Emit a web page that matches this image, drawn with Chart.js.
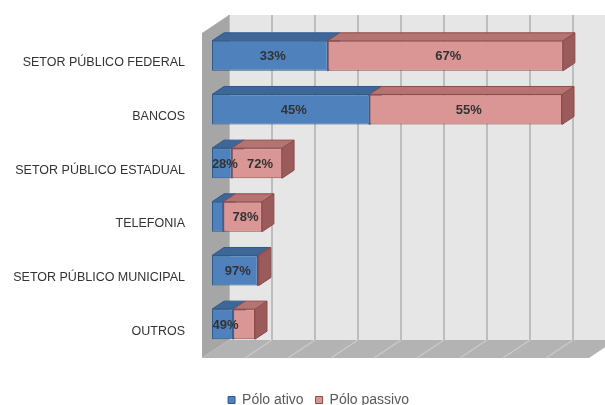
<!DOCTYPE html>
<html><head><meta charset="utf-8">
<script src="https://cdn.jsdelivr.net/npm/chart.js@4/dist/chart.umd.min.js"></script>
<style>html,body{margin:0;padding:0;background:#fff;}#wrap{width:605px;height:405px;}</style>
</head><body><div id="wrap"><canvas id="c" width="605" height="405"></canvas></div>
<script>
const categories = ['SETOR PÚBLICO FEDERAL','BANCOS','SETOR PÚBLICO ESTADUAL','TELEFONIA','SETOR PÚBLICO MUNICIPAL','OUTROS'];
const seriesNames = ['Pólo ativo','Pólo passivo'];
const poloAtivo = [269, 366, 46, 26, 106, 49];
const poloPassivo = [547, 448, 117, 90, 3, 51];
const ativoLabels = ['33%','45%','28%','','97%','49%'];
const passivoLabels = ['67%','55%','72%','78%','',''];
const axisMax = 900;
const gridStep = 100;

const frontColors = ['#4F81BD','#D99694'];
const borderColors = ['#2F5A8C','#8E4C4B'];
const topColors = ['#3D6699','#B57371'];
const sideColors = ['#33598A','#9B5B5A'];
const labelSets = [ativoLabels, passivoLabels];

const BACK = {dx:17, dy:-11};
const FLOOR = {dx:-10, dy:7};
const BAR = {dx:12, dy:-8};
const LEG_SHIFT = {x:19, y:12};

function poly(ctx, pts, fill, stroke){
  ctx.beginPath(); ctx.moveTo(pts[0][0], pts[0][1]);
  for (let i=1;i<pts.length;i++) ctx.lineTo(pts[i][0], pts[i][1]);
  ctx.closePath();
  if (fill){ctx.fillStyle=fill; ctx.fill();}
  if (stroke){ctx.strokeStyle=stroke; ctx.lineWidth=1; ctx.stroke();}
}

const threeD = {
  id:'threeD',
  beforeDatasetsDraw(chart){
    const {ctx, chartArea:ca, scales:{x}} = chart;
    const x0 = x.getPixelForValue(0), xM = x.getPixelForValue(axisMax);
    const backBottom = ca.bottom + BACK.dy, frontBottom = ca.bottom + FLOOR.dy;
    const backTop = ca.top - 14, frontTop = backTop + (FLOOR.dy - BACK.dy);
    ctx.save();
    ctx.fillStyle = '#E6E6E6';
    ctx.fillRect(x0 + BACK.dx, backTop, chart.width - (x0 + BACK.dx), backBottom - backTop);
    ctx.strokeStyle = '#BDBDBD'; ctx.lineWidth = 2;
    for (let v = 0; v < axisMax; v += gridStep){
      const px = Math.round(x.getPixelForValue(v) + BACK.dx);
      ctx.beginPath(); ctx.moveTo(px, backTop); ctx.lineTo(px, backBottom); ctx.stroke();
    }
    poly(ctx, [[x0+FLOOR.dx, frontBottom],[xM+FLOOR.dx, frontBottom],[xM+BACK.dx, backBottom],[x0+BACK.dx, backBottom]], '#B3B3B3');
    ctx.strokeStyle = '#C9C9C9'; ctx.lineWidth = 1.5;
    for (let v = gridStep; v < axisMax; v += gridStep){
      const px = x.getPixelForValue(v);
      ctx.beginPath(); ctx.moveTo(px+BACK.dx, backBottom); ctx.lineTo(px+FLOOR.dx, frontBottom); ctx.stroke();
    }
    poly(ctx, [[x0+FLOOR.dx, frontTop],[x0+BACK.dx, backTop],[x0+BACK.dx, backBottom],[x0+FLOOR.dx, frontBottom]], '#A6A6A6');
    const metas = chart.data.datasets.map((d,i)=>chart.getDatasetMeta(i));
    for (let j = 0; j < categories.length; j++){
      metas.forEach((m, i) => {
        const el = m.data[j]; if (!el) return;
        const l = Math.min(el.base, el.x), r = Math.max(el.base, el.x);
        if (r - l < 0.5) return;
        const t = el.y - el.height/2, b = el.y + el.height/2;
        poly(ctx, [[r,t],[r+BAR.dx,t+BAR.dy],[r+BAR.dx,b+BAR.dy],[r,b]], sideColors[i], borderColors[i]);
        poly(ctx, [[l,t],[r,t],[r+BAR.dx,t+BAR.dy],[l+BAR.dx,t+BAR.dy]], topColors[i], borderColors[i]);
      });
    }
    ctx.restore();
  },
  afterDatasetsDraw(chart){
    const {ctx} = chart;
    ctx.save();
    ctx.font = 'bold 13px "Liberation Sans", Arial, sans-serif';
    ctx.fillStyle = '#333333';
    ctx.textAlign = 'center'; ctx.textBaseline = 'middle';
    chart.data.datasets.forEach((d,i)=>{
      chart.getDatasetMeta(i).data.forEach((el,j)=>{
        const txt = labelSets[i][j]; if (!txt) return;
        const l = Math.min(el.base, el.x), r = Math.max(el.base, el.x);
        ctx.fillText(txt, (l+r)/2 + 3, el.y + 1);
      });
    });
    ctx.restore();
  },
  afterLayout(chart){
    const lg = chart.legend; if (!lg) return;
    lg.left += LEG_SHIFT.x; lg.right += LEG_SHIFT.x;
    lg.top += LEG_SHIFT.y; lg.bottom += LEG_SHIFT.y;
  }
};

new Chart(document.getElementById('c'), {
  type:'bar',
  data:{
    labels: categories,
    datasets:[
      {label: seriesNames[0], data: poloAtivo, backgroundColor: frontColors[0], borderColor: borderColors[0], borderWidth:1, borderSkipped:false, barPercentage:0.56, categoryPercentage:1},
      {label: seriesNames[1], data: poloPassivo, backgroundColor: frontColors[1], borderColor: borderColors[1], borderWidth:1, borderSkipped:false, barPercentage:0.56, categoryPercentage:1}
    ]
  },
  options:{
    indexAxis:'y', responsive:false, animation:false, devicePixelRatio:1,
    layout:{padding:{top:29, right:6, left:0, bottom:0}},
    plugins:{
      tooltip:{enabled:false},
      legend:{position:'bottom', labels:{boxWidth:7, boxHeight:7, padding:12, color:'#595959', font:{family:'"Liberation Sans", Arial, sans-serif', size:14}}}
    },
    scales:{
      x:{stacked:true, min:0, max:axisMax, ticks:{display:false}, grid:{display:false, drawTicks:false}, border:{display:false},
         afterFit(s){ s.height = 18; s.paddingLeft = 0; s.paddingRight = 0; }},
      y:{stacked:true, grid:{display:false, drawTicks:false}, border:{display:false},
         ticks:{padding:27, labelOffset:7, color:'#333333', font:{family:'"Liberation Sans", Arial, sans-serif', size:12.5}},
         afterFit(s){ s.width = 212; s.paddingTop = 0; s.paddingBottom = 0; }}
    }
  },
  plugins:[threeD]
});
</script></body></html>
